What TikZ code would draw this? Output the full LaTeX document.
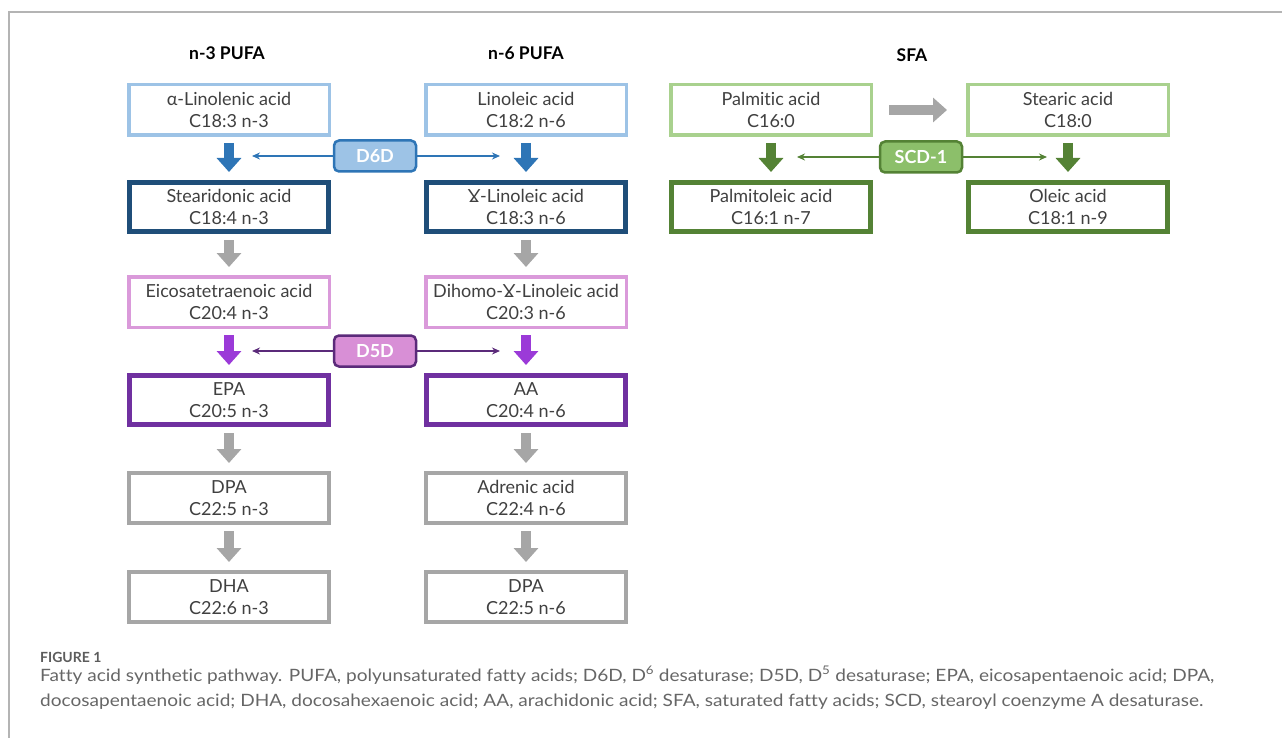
\documentclass[tikz,border=0pt]{standalone}
\usepackage{fontspec}
\setmainfont{Lato}[Ligatures={NoCommon}]
\newfontfamily\capfont[FakeStretch=1.12,Ligatures={NoCommon}]{Lato}
\usetikzlibrary{arrows.meta}
\definecolor{txt}{HTML}{404040}
\definecolor{lblue}{HTML}{9DC3E6}
\definecolor{navy}{HTML}{1F4E79}
\definecolor{mblue}{HTML}{2E75B6}
\definecolor{lpink}{HTML}{DA9ADA}
\definecolor{purp}{HTML}{7030A0}
\definecolor{vio}{HTML}{9B3AD8}
\definecolor{dpurp}{HTML}{5B2A7A}
\definecolor{pinkfill}{HTML}{D88FD6}
\definecolor{gry}{HTML}{A6A6A6}
\definecolor{lgreen}{HTML}{A9D18E}
\definecolor{dgreen}{HTML}{548235}
\definecolor{greenfill}{HTML}{8CBF6A}
\definecolor{framec}{HTML}{B4B4B4}
\definecolor{captc}{HTML}{666666}
\begin{document}
\begin{tikzpicture}[x=1pt,y=-1pt,
  acid/.style={draw=#1, fill=white, line width=4pt, minimum width=200pt, minimum height=50pt,
    inner sep=0pt, align=center, text=txt, font=\fontsize{18}{21.5}\selectfont},
  thinacid/.style={acid=#1, line width=3.5pt, minimum width=200.5pt, minimum height=50.5pt},
  thickacid/.style={acid=#1, line width=5pt, minimum width=199pt, minimum height=49pt},
  enz/.style={draw=#1, line width=2.5pt, rounded corners=5pt, minimum width=82pt, minimum height=31pt,
    inner sep=0pt, text=white, font=\fontsize{18}{20}\selectfont\bfseries},
  head/.style={font=\fontsize{17.5}{20}\selectfont\bfseries, text=black},
  blk/.style={draw=#1, line width=10pt, -{Triangle[width=24pt,length=14pt]}},
  thinarr/.style={draw=#1, line width=1.5pt, -{Stealth[width=7pt,length=8pt]}},
]
\useasboundingbox (0,0) rectangle (1282,738);
% frame
\draw[framec, line width=1.5pt] (9,738) -- (9,12) -- (1282,12);

% headers
\node[head] (h3) at (227,53) {n-3 PUFA};
\node[head] (h6) at (526,53) {n-6 PUFA};
\node[head] (hs) at (912,55) {SFA};

% n-3 column
\node[thinacid=lblue] (a1) at (229,110) {α-Linolenic acid\\C18:3 n-3};
\node[thickacid=navy] (a2) at (229,207) {Stearidonic acid\\C18:4 n-3};
\node[thinacid=lpink] (a3) at (229,302) {Eicosatetraenoic acid\\C20:4 n-3};
\node[thickacid=purp] (a4) at (229,400) {EPA\\C20:5 n-3};
\node[acid=gry] (a5) at (229,498) {DPA\\C22:5 n-3};
\node[acid=gry] (a6) at (229,597) {DHA\\C22:6 n-3};

% n-6 column
\node[thinacid=lblue] (b1) at (526,110) {Linoleic acid\\C18:2 n-6};
\node[thickacid=navy] (b2) at (526,207) {\char"0194-Linoleic acid\\C18:3 n-6};
\node[thinacid=lpink] (b3) at (526,302) {Dihomo-\char"0194-Linoleic acid\\C20:3 n-6};
\node[thickacid=purp] (b4) at (526,400) {AA\\C20:4 n-6};
\node[acid=gry] (b5) at (526,498) {Adrenic acid\\C22:4 n-6};
\node[acid=gry] (b6) at (526,597) {DPA\\C22:5 n-6};

% SFA
\node[thinacid=lgreen] (s1) at (771,110) {Palmitic acid\\C16:0};
\node[thinacid=lgreen] (s2) at (1068,110) {Stearic acid\\C18:0};
\node[thickacid=dgreen] (s3) at (771,207) {Palmitoleic acid\\C16:1 n-7};
\node[thickacid=dgreen] (s4) at (1068,207) {Oleic acid\\C18:1 n-9};

% block arrows
\foreach \u/\v/\c in {a1/a2/mblue, b1/b2/mblue, a2/a3/gry, b2/b3/gry, a3/a4/vio, b3/b4/vio,
                      a4/a5/gry, b4/b5/gry, a5/a6/gry, b5/b6/gry, s1/s3/dgreen, s2/s4/dgreen}
  \draw[blk=\c] ([yshift=-6pt]\u.south) -- ([yshift=8pt]\v.north);
\draw[blk=gry] ([xshift=16pt]s1.east) -- ([xshift=-19pt]s2.west);

% enzymes
\node[enz=mblue, fill=lblue] (d6) at (375,156) {D6D};
\node[enz=dpurp, fill=pinkfill] (d5) at (375,351) {D5D};
\node[enz=dgreen, fill=greenfill] (scd) at (921,157) {SCD-1};

\coordinate (d6l) at (252,156);
\coordinate (d6r) at (500,156);
\coordinate (d5l) at (252,351);
\coordinate (d5r) at (500,351);
\coordinate (scl) at (797,157);
\coordinate (scr) at (1047,157);
\draw[thinarr=mblue] (d6.west) -- (d6l);
\draw[thinarr=mblue] (d6.east) -- (d6r);
\draw[thinarr=dpurp] (d5.west) -- (d5l);
\draw[thinarr=dpurp] (d5.east) -- (d5r);
\draw[thinarr=dgreen] (scd.west) -- (scl);
\draw[thinarr=dgreen] (scd.east) -- (scr);

% caption
\node[anchor=base west, inner sep=0pt, text=captc!90!black, font=\fontsize{14}{16}\selectfont\bfseries] (fig) at (40,662) {FIGURE 1};
\node[anchor=base west, inner sep=0pt, text=captc, font=\capfont\fontsize{17}{20}\selectfont] (cap1) at (40,681)
  {Fatty acid synthetic pathway. PUFA, polyunsaturated fatty acids; D6D, D\textsuperscript{6} desaturase; D5D, D\textsuperscript{5} desaturase; EPA, eicosapentaenoic acid; DPA,};
\node[anchor=base west, inner sep=0pt, text=captc, font=\capfont\fontsize{17}{20}\selectfont] (cap2) at (40,706)
  {docosapentaenoic acid; DHA, docosahexaenoic acid; AA, arachidonic acid; SFA, saturated fatty acids; SCD, stearoyl coenzyme A desaturase.};
\end{tikzpicture}
\end{document}
